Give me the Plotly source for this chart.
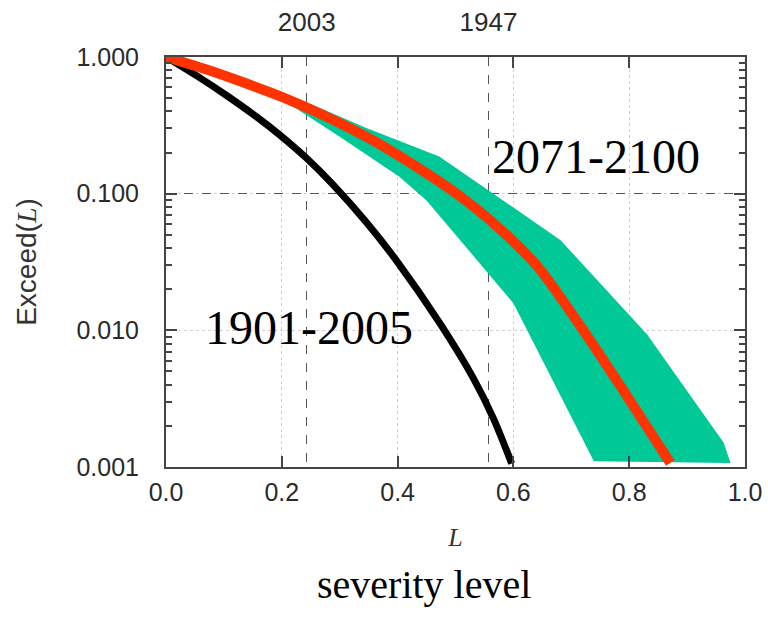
import plotly.graph_objects as go

# ---- data ----
L_past = [0.0, 0.058, 0.104, 0.156, 0.196, 0.242, 0.288, 0.346, 0.399, 0.474, 0.531, 0.566, 0.597]
E_past = [1.0, 0.706, 0.525, 0.366, 0.270, 0.183, 0.117, 0.0618, 0.0320, 0.0111, 0.00445, 0.00224, 0.00106]

L_future = [0.0, 0.069, 0.133, 0.202, 0.259, 0.317, 0.374, 0.432, 0.505, 0.572, 0.641, 0.716, 0.79, 0.871]
E_future = [1.0, 0.813, 0.653, 0.507, 0.398, 0.302, 0.224, 0.158, 0.0977, 0.0575, 0.0295, 0.0107, 0.00363, 0.00107]

L_band_low = [0.0, 0.133, 0.202, 0.30, 0.403, 0.45, 0.60, 0.739, 0.975]
E_band_low = [1.0, 0.60, 0.485, 0.261, 0.133, 0.0891, 0.0158, 0.0011, 0.00107]
L_band_high = [0.0, 0.133, 0.242, 0.346, 0.472, 0.681, 0.831, 0.963, 0.975]
E_band_high = [1.0, 0.692, 0.468, 0.302, 0.187, 0.0459, 0.00933, 0.00151, 0.00107]

x_ticks = [0.0, 0.2, 0.4, 0.6, 0.8, 1.0]
x_ticktext = ["0.0", "0.2", "0.4", "0.6", "0.8", "1.0"]
y_ticks = [1.0, 0.1, 0.01, 0.001]
y_ticktext = ["1.000", "0.100", "0.010", "0.001"]
event_L = [0.243, 0.557]
event_years = ["2003", "1947"]
threshold = [0.1]

GREEN = "#00C896"
RED = "#FF3300"
FRAME = "#444444"
TICKCOL = "#2a2a2a"
SANS = "Liberation Sans, Arial, sans-serif"
SERIF = "Liberation Serif, Times New Roman, serif"

fig = go.Figure()
fig.add_trace(go.Scatter(x=L_band_low, y=E_band_low, mode="lines",
                         line=dict(width=0, color=GREEN), showlegend=False, hoverinfo="skip"))
fig.add_trace(go.Scatter(x=L_band_high, y=E_band_high, mode="lines", fill="tonexty",
                         fillcolor=GREEN, line=dict(width=0, color=GREEN),
                         showlegend=False, hoverinfo="skip"))
fig.add_trace(go.Scatter(x=L_past, y=E_past, mode="lines",
                         line=dict(color="black", width=7, shape="spline", smoothing=0.8),
                         showlegend=False))
fig.add_trace(go.Scatter(x=L_future, y=E_future, mode="lines",
                         line=dict(color=RED, width=10, shape="spline", smoothing=0.8),
                         showlegend=False))
# invisible carriers so the overlay axes (event years, threshold line) are drawn
fig.add_trace(go.Scatter(x=event_L, y=[None] * len(event_L), xaxis="x2", yaxis="y",
                         mode="markers", marker=dict(opacity=0), showlegend=False, hoverinfo="skip"))
fig.add_trace(go.Scatter(x=[None] * len(threshold), y=threshold, xaxis="x", yaxis="y2",
                         mode="markers", marker=dict(opacity=0), showlegend=False, hoverinfo="skip"))

fig.update_layout(
    width=768, height=619,
    margin=dict(l=166, r=23, t=57, b=152, autoexpand=False),
    paper_bgcolor="white", plot_bgcolor="white",
    showlegend=False,
    xaxis=dict(
        range=[0, 1], tickvals=x_ticks, ticktext=x_ticktext, automargin=False,
        ticks="inside", ticklen=11, tickwidth=1.5, tickcolor=FRAME,
        showline=True, linecolor=FRAME, linewidth=2, mirror="ticks",
        showgrid=True, gridcolor="#d0d0d0", griddash="dot", gridwidth=1,
        zeroline=False,
        tickfont=dict(family=SANS, size=25, color=TICKCOL),
        ticklabelstandoff=2,
        title=dict(text="<i>L</i>", font=dict(family=SERIF, size=26, color="#333"), standoff=23),
    ),
    yaxis=dict(
        type="log", range=[-3, 0], tickvals=y_ticks, ticktext=y_ticktext, automargin=False,
        ticks="inside", ticklen=11, tickwidth=1.5, tickcolor=FRAME,
        showline=True, linecolor=FRAME, linewidth=2, mirror="ticks",
        showgrid=True, gridcolor="#d0d0d0", griddash="dot", gridwidth=1,
        zeroline=False,
        minor=dict(ticks="inside", ticklen=6, tickcolor=FRAME, dtick="D1", showgrid=False),
        tickfont=dict(family=SANS, size=25, color=TICKCOL),
        ticklabelstandoff=20,
        title=dict(text='Exceed(<span style="font-family:Liberation Serif"><i>L</i></span>)',
                   font=dict(family=SANS, size=28, color="#333"), standoff=32),
    ),
    xaxis2=dict(
        overlaying="x", side="top", anchor="y", range=[0, 1], automargin=False,
        tickmode="array", tickvals=event_L, ticktext=event_years,
        ticks="", showline=False, zeroline=False,
        showgrid=True, gridcolor="#555555", griddash="dash", gridwidth=1.2,
        tickfont=dict(family=SANS, size=26, color=TICKCOL),
        ticklabelstandoff=20,
    ),
    yaxis2=dict(
        overlaying="y", side="right", anchor="x", type="log", range=[-3, 0], automargin=False,
        tickmode="array", tickvals=threshold, showticklabels=False,
        ticks="", showline=False, zeroline=False,
        showgrid=True, gridcolor="#555555", griddash="dash", gridwidth=1.2,
    ),
    annotations=[
        dict(x=0.743, y=-0.731, xref="x", yref="y", text="2071-2100", showarrow=False,
             font=dict(family=SERIF, size=48, color="black"), xanchor="center", yanchor="middle"),
        dict(x=0.247, y=-1.98, xref="x", yref="y", text="1901-2005", showarrow=False,
             font=dict(family=SERIF, size=48, color="black"), xanchor="center", yanchor="middle"),
        dict(x=0.446, y=-0.286, xref="paper", yref="paper", text="severity level", showarrow=False,
             font=dict(family=SERIF, size=40, color="black"), xanchor="center", yanchor="middle"),
    ],
)

fig.write_html("out.html")
